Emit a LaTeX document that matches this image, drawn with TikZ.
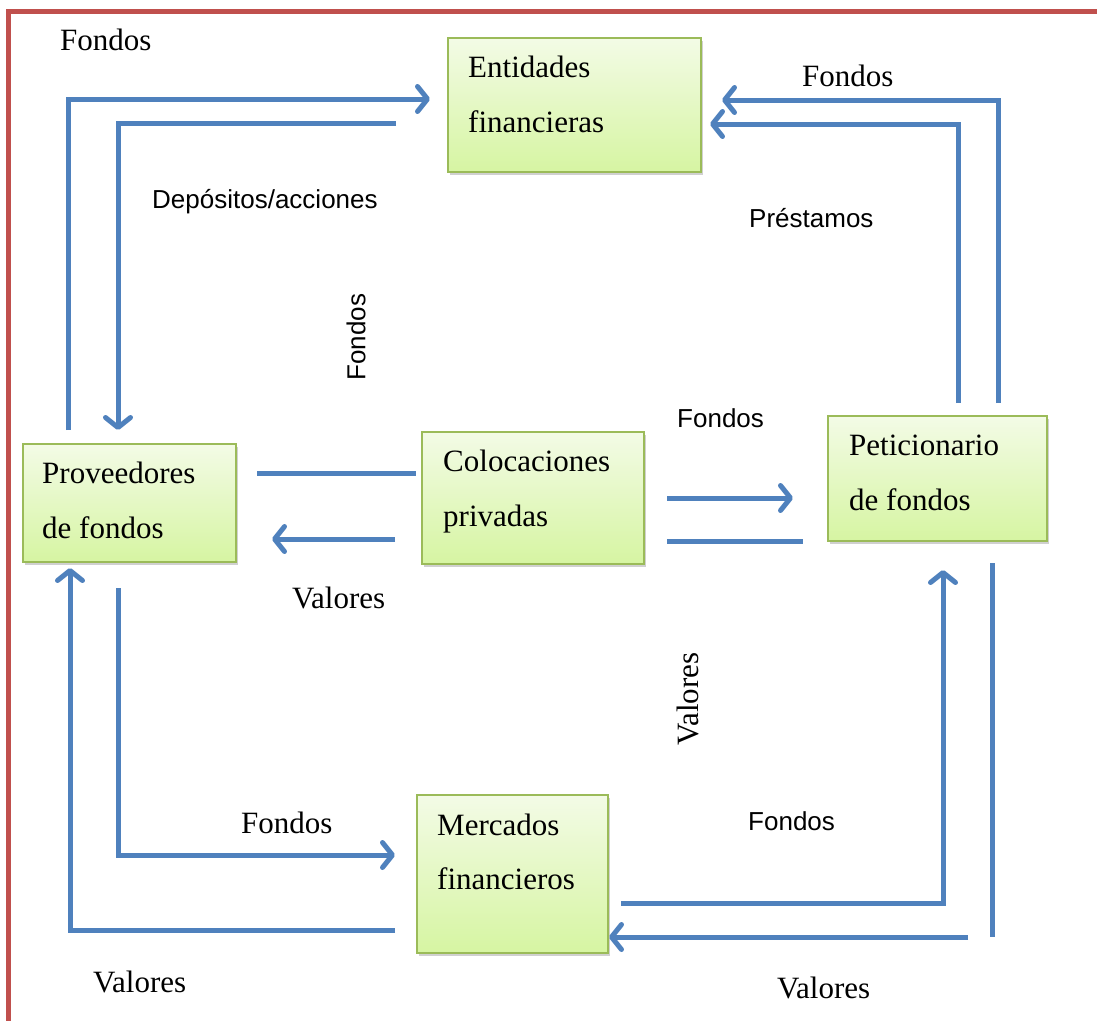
\documentclass[tikz,border=0pt]{standalone}
\usepackage{fontspec}
\setmainfont{Liberation Serif}
\setsansfont{Liberation Sans}
\usetikzlibrary{arrows.meta,shadows,calc}
\definecolor{flowblue}{HTML}{4F81BD}
\definecolor{framered}{HTML}{C0504D}
\definecolor{boxline}{HTML}{9BBB59}
\definecolor{boxtop}{HTML}{F3FBE6}
\definecolor{boxbot}{HTML}{D6F5A2}
\begin{document}
\begin{tikzpicture}[x=1pt,y=-1pt,
  box/.style={draw=boxline, line width=2pt, top color=boxtop, bottom color=boxbot,
    anchor=north west, inner sep=0pt,
    drop shadow={shadow xshift=2pt, shadow yshift=-3pt, opacity=0.3, fill=black!60}},
  btxt/.style={anchor=base west, font=\fontsize{31}{31}\selectfont, inner sep=0pt},
  slab/.style={anchor=base west, font=\sffamily\fontsize{26}{26}\selectfont, inner sep=0pt},
  rlab/.style={anchor=base west, font=\fontsize{31}{31}\selectfont, inner sep=0pt},
  flow/.style={draw=flowblue, line width=5pt, line join=miter},
  tip/.style={flow, -{Straight Barb[length=10pt, width=25pt, line cap=round, line join=round]}}
]
\useasboundingbox (0,0) rectangle (1097,1021);
\fill[white] (0,0) rectangle (1097,1021);
% frame
\draw[framered, line width=5pt] (1097,11) -- (8,11) -- (8,1021);

% boxes
\node[box, minimum width=253pt, minimum height=134pt] (ent) at (447,37) {};
\node[box, minimum width=213pt, minimum height=118pt] (prov) at (22,443) {};
\node[box, minimum width=222pt, minimum height=132pt] (col) at (421,431) {};
\node[box, minimum width=219pt, minimum height=125pt] (pet) at (827,415) {};
\node[box, minimum width=191pt, minimum height=158pt] (mer) at (416,794) {};

% box texts
\node[btxt] (ent1) at (468,77) {Entidades};
\node[btxt] (ent2) at (468,132) {financieras};
\node[btxt] (prov1) at (42,483) {Proveedores};
\node[btxt] (prov2) at (42,538) {de fondos};
\node[btxt] (col1) at (443,471) {Colocaciones};
\node[btxt] (col2) at (443,526) {privadas};
\node[btxt] (pet1) at (849,455) {Peticionario};
\node[btxt] (pet2) at (849,510) {de fondos};
\node[btxt] (mer1) at (437,835) {Mercados};
\node[btxt] (mer2) at (437,889) {financieros};

% connector end points
\coordinate (a1s) at (68,430);   \coordinate (a1e) at (430,99);
\coordinate (a2s) at (396,123);  \coordinate (a2e) at (118,430);
\coordinate (a3s) at (998,403);  \coordinate (a3e) at (722,100);
\coordinate (a4s) at (958,403);  \coordinate (a4e) at (710,124);
\coordinate (a5s) at (257,473);  \coordinate (a5e) at (416,473);
\coordinate (a6s) at (395,539);  \coordinate (a6e) at (272,539);
\coordinate (a7s) at (667,498);  \coordinate (a7e) at (793,498);
\coordinate (a8s) at (667,541);  \coordinate (a8e) at (803,541);
\coordinate (a9s) at (621,903);  \coordinate (a9e) at (943,570);
\coordinate (a10s) at (992,563); \coordinate (a10m) at (992,937);
\coordinate (a10t) at (968,937); \coordinate (a10e) at (609,937);
\coordinate (a11s) at (118,588); \coordinate (a11e) at (395,855);
\coordinate (a12s) at (395,930); \coordinate (a12e) at (70,568);

% connectors
\draw[tip] (a1s) |- (a1e);
\draw[tip] (a2s) -| (a2e);
\draw[tip] (a3s) |- (a3e);
\draw[tip] (a4s) |- (a4e);
\draw[flow] (a5s) -- (a5e);
\draw[tip] (a6s) -- (a6e);
\draw[tip] (a7s) -- (a7e);
\draw[flow] (a8s) -- (a8e);
\draw[tip] (a9s) -| (a9e);
\draw[flow] (a10s) -- (a10m);
\draw[tip] (a10t) -- (a10e);
\draw[tip] (a11s) |- (a11e);
\draw[tip] (a12s) -| (a12e);

% labels
\node[rlab] (l1) at (60,50) {Fondos};
\node[rlab] (l2) at (802,86) {Fondos};
\node[slab] (l3) at (152,208) {Depósitos/acciones};
\node[slab] (l4) at (749,227) {Préstamos};
\node[slab, anchor=center, rotate=90] (l5) at (356,337) {Fondos};
\node[slab] (l6) at (677,427) {Fondos};
\node[rlab] (l7) at (292,608) {Valores};
\node[rlab, anchor=center, rotate=90] (l8) at (688,699) {Valores};
\node[rlab] (l9) at (241,833) {Fondos};
\node[slab] (l10) at (748,830) {Fondos};
\node[rlab] (l11) at (93,992) {Valores};
\node[rlab] (l12) at (777,998) {Valores};
\end{tikzpicture}
\end{document}
